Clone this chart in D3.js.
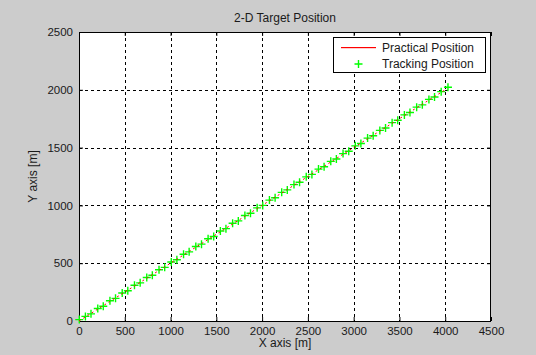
<!DOCTYPE html>
<html>
<head>
<meta charset="utf-8">
<script src="https://cdn.jsdelivr.net/npm/d3@7"></script>
<style>
  html, body { margin: 0; padding: 0; background: #cccccc; }
  svg { display: block; }
  text { font-family: "Liberation Sans", Arial, sans-serif; fill: #1a1a1a; }
</style>
</head>
<body>
<svg id="chart" width="536" height="355"></svg>
<script>
const titleText = "2-D Target Position";
const xLabel = "X axis [m]";
const yLabel = "Y axis [m]";
const xTicks = [0, 500, 1000, 1500, 2000, 2500, 3000, 3500, 4000, 4500];
const yTicks = [0, 500, 1000, 1500, 2000, 2500];
const seriesNames = ["Practical Position", "Tracking Position"];

// Practical (true) path
const practicalX = [0,67,134,201,268,335,402,469,536,603,670,737,804,871,938,1005,1072,1139,1206,1273,1340,1407,1474,1541,1608,1675,1742,1809,1876,1943,2010,2077,2144,2211,2278,2345,2412,2479,2546,2613,2680,2747,2814,2881,2948,3015,3082,3149,3216,3283,3350,3417,3484,3551,3618,3685,3752,3819,3886,3953,4020];
const practicalY = [0,34,67,101,134,168,201,235,268,302,335,369,402,436,469,503,536,570,603,637,670,704,737,771,804,838,871,905,938,972,1005,1039,1072,1106,1139,1173,1206,1240,1273,1307,1340,1374,1407,1441,1474,1508,1541,1575,1608,1642,1675,1709,1742,1776,1809,1843,1876,1910,1943,1977,2010];

// Tracked estimates
const trackX = [3,70,131,205,265,338,399,472,533,606,668,740,801,874,936,1008,1069,1142,1203,1276,1338,1410,1471,1544,1605,1678,1740,1812,1873,1946,2007,2080,2142,2214,2275,2348,2409,2482,2544,2616,2677,2750,2811,2884,2946,3018,3079,3152,3213,3286,3348,3420,3481,3554,3615,3688,3750,3822,3883,3956,4030];
const trackY = [12,40,62,108,128,175,196,242,262,309,330,376,396,443,464,510,530,577,598,644,665,711,731,778,799,845,866,912,932,979,1000,1046,1066,1113,1134,1180,1200,1247,1268,1314,1334,1381,1402,1448,1468,1515,1536,1582,1602,1649,1670,1716,1736,1783,1804,1850,1870,1917,1938,1984,2022];

const svg = d3.select("#chart");
const box = { left: 79, right: 491, top: 32, bottom: 321 };

const x = d3.scaleLinear().domain([0, 4500]).range([box.left, box.right]);
const y = d3.scaleLinear().domain([0, 2500]).range([box.bottom, box.top]);
const fmt = d3.format("d");

// plot area
svg.append("rect")
  .attr("x", box.left).attr("y", box.top)
  .attr("width", box.right - box.left).attr("height", box.bottom - box.top)
  .attr("fill", "#ffffff");

// dotted grid
const grid = svg.append("g").attr("stroke", "#000").attr("stroke-width", 1)
  .attr("stroke-dasharray", "3,3").attr("shape-rendering", "crispEdges");
grid.selectAll("line.vx").data(xTicks.slice(1, -1)).join("line")
  .attr("x1", d => Math.round(x(d)) + 0.5).attr("x2", d => Math.round(x(d)) + 0.5)
  .attr("y1", box.top).attr("y2", box.bottom);
grid.selectAll("line.hy").data(yTicks.slice(1, -1)).join("line")
  .attr("y1", d => Math.round(y(d)) + 0.5).attr("y2", d => Math.round(y(d)) + 0.5)
  .attr("x1", box.left).attr("x2", box.right);

// axes with inward ticks on all four sides
svg.append("g").attr("transform", `translate(0,${box.bottom})`)
  .call(d3.axisBottom(x).tickValues(xTicks).tickFormat(fmt).tickSize(-4).tickPadding(6));
svg.append("g").attr("transform", `translate(${box.left},0)`)
  .call(d3.axisLeft(y).tickValues(yTicks).tickFormat(fmt).tickSize(-4).tickPadding(6));
svg.append("g").attr("transform", `translate(0,${box.top})`)
  .call(d3.axisTop(x).tickValues(xTicks).tickSize(-4).tickFormat(""));
svg.append("g").attr("transform", `translate(${box.right},0)`)
  .call(d3.axisRight(y).tickValues(yTicks).tickSize(-4).tickFormat(""));

svg.selectAll(".domain").remove();
svg.selectAll(".tick line").attr("stroke", "#000");
svg.selectAll(".tick text")
  .attr("font-size", 11.5)
  .attr("font-family", "Liberation Sans, Arial, sans-serif")
  .attr("fill", "#1a1a1a");

// border
svg.append("rect")
  .attr("x", box.left + 0.5).attr("y", box.top + 0.5)
  .attr("width", box.right - box.left - 1).attr("height", box.bottom - box.top)
  .attr("fill", "none").attr("stroke", "#000").attr("stroke-width", 1);

// data
const plot = svg.append("g");
const practical = practicalX.map((v, i) => [v, practicalY[i]]);
const tracking = trackX.map((v, i) => [v, trackY[i]]);

const m = 4;
plot.selectAll("path.mk").data(tracking).join("path")
  .attr("class", "mk")
  .attr("d", d => {
    const cx = x(d[0]), cy = y(d[1]);
    return `M${cx - m},${cy}H${cx + m}M${cx},${cy - m}V${cy + m}`;
  })
  .attr("stroke", "#00ff00").attr("stroke-width", 1.4).attr("fill", "none");

plot.append("path")
  .datum(practical)
  .attr("d", d3.line().x(d => x(d[0])).y(d => y(d[1])))
  .attr("fill", "none").attr("stroke", "#ff0000").attr("stroke-width", 1)
  .attr("stroke-dasharray", "2,3");

// titles
svg.append("text").attr("x", (box.left + box.right) / 2).attr("y", 22)
  .attr("text-anchor", "middle").attr("font-size", 12).text(titleText);
svg.append("text").attr("x", (box.left + box.right) / 2).attr("y", 347)
  .attr("text-anchor", "middle").attr("font-size", 12).text(xLabel);
svg.append("text")
  .attr("transform", `translate(37,${(box.top + box.bottom) / 2}) rotate(-90)`)
  .attr("text-anchor", "middle").attr("font-size", 12).text(yLabel);

// legend
const lg = svg.append("g");
lg.append("rect").attr("x", 333.5).attr("y", 37.5).attr("width", 152).attr("height", 35)
  .attr("fill", "#fff").attr("stroke", "#000").attr("stroke-width", 1);
lg.append("rect").attr("x", 341).attr("y", 47).attr("width", 35).attr("height", 1.2)
  .attr("fill", "#ff0000");
lg.append("path").attr("d", `M${358.5 - m},64H${358.5 + m}M358.5,${64 - m}V${64 + m}`)
  .attr("stroke", "#00ff00").attr("stroke-width", 1.4);
lg.append("text").attr("x", 382).attr("y", 51.5).attr("font-size", 12).text(seriesNames[0]);
lg.append("text").attr("x", 382).attr("y", 68).attr("font-size", 12).text(seriesNames[1]);
</script>
</body>
</html>
